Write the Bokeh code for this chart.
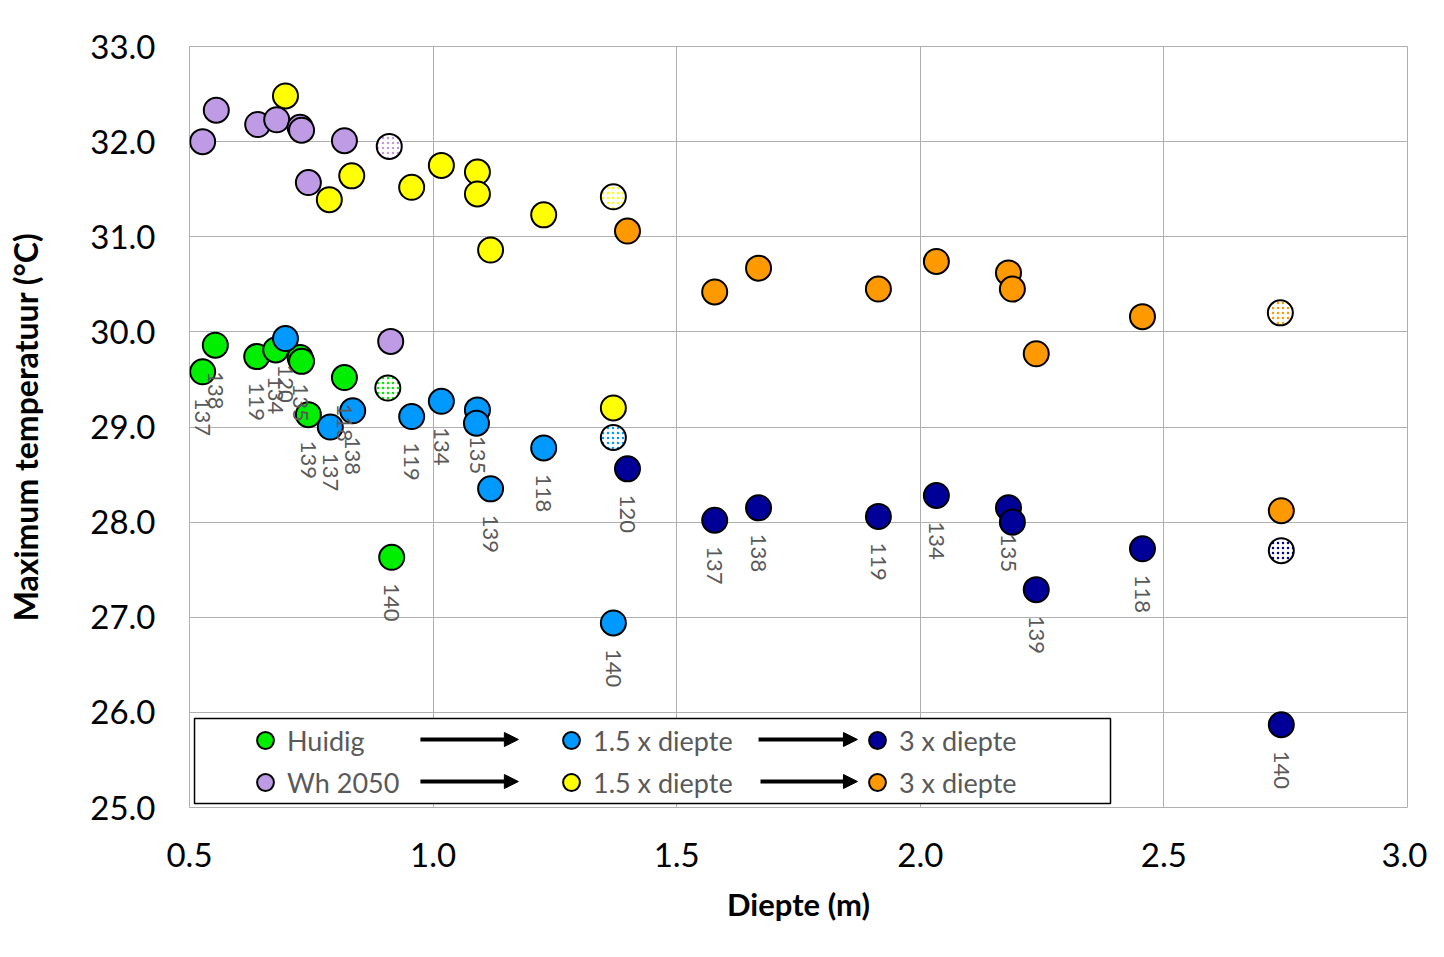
import numpy as np
from bokeh.plotting import figure
from bokeh.models import (ColumnDataSource, Legend, LegendItem, FixedTicker,
                          NumeralTickFormatter, BoxAnnotation, Arrow, NormalHead, Range1d)
from bokeh.embed import file_html
from bokeh.resources import INLINE
from bokeh.core.properties import value

nan = float("nan")

# Station labels (the 7th station carries no visible label)
stations = ["137", "138", "119", "134", "120", "135", "", "139", "118", "140"]

# Huidig (current)
huidig_depth = [0.527, 0.553, 0.638, 0.677, nan, 0.727, 0.730, 0.744, 0.818, 0.915]
huidig_temp = [29.58, 29.86, 29.74, 29.81, nan, 29.73, 29.69, 29.13, 29.52, 27.63]
# Huidig, 1.5 x diepte
huidig15_depth = [0.789, 0.835, 0.956, 1.017, 0.697, 1.091, 1.089, 1.118, 1.227, 1.370]
huidig15_temp = [29.00, 29.17, 29.11, 29.27, 29.93, 29.18, 29.04, 28.35, 28.78, 26.94]
# Huidig, 3 x diepte
huidig3_depth = [1.578, 1.668, 1.914, 2.033, 1.399, 2.181, 2.189, 2.238, 2.456, 2.741]
huidig3_temp = [28.02, 28.15, 28.06, 28.28, 28.56, 28.15, 28.00, 27.29, 27.72, 25.87]

# Wh 2050
wh_depth = [0.527, 0.555, 0.640, 0.679, nan, 0.727, 0.730, 0.744, 0.818, 0.913]
wh_temp = [32.00, 32.33, 32.18, 32.23, nan, 32.15, 32.12, 31.57, 32.01, 29.90]
# Wh 2050, 1.5 x diepte
wh15_depth = [0.787, 0.833, 0.956, 1.017, 0.697, 1.091, 1.091, 1.118, 1.227, 1.370]
wh15_temp = [31.39, 31.64, 31.52, 31.75, 32.48, 31.68, 31.45, 30.86, 31.23, 29.20]
# Wh 2050, 3 x diepte
wh3_depth = [1.578, 1.668, 1.914, 2.033, 1.399, 2.181, 2.189, 2.238, 2.456, 2.741]
wh3_temp = [30.42, 30.67, 30.45, 30.74, 31.06, 30.62, 30.45, 29.77, 30.16, 28.12]

# Hatched (patterned) markers, one per series
hatched_depth = [0.907, 1.370, 2.741, 0.910, 1.370, 2.739]
hatched_temp = [29.41, 28.89, 27.70, 31.95, 31.42, 30.20]
hatched_color = ["#00ee00", "#0099ff", "#000099", "#bf9be6", "#ffff00", "#ff9900"]

x_ticks = [0.5, 1.0, 1.5, 2.0, 2.5, 3.0]
y_ticks = [25, 26, 27, 28, 29, 30, 31, 32, 33]

FONT = "Lato"
GRID = "#b0b0b0"

p = figure(frame_width=1218, frame_height=761,
           x_range=Range1d(0.5, 3.0), y_range=Range1d(25, 33),
           output_backend="svg", toolbar_location=None,
           min_border_left=189, min_border_top=46,
           min_border_bottom=130, min_border_right=20,
           background_fill_color="white", border_fill_color="white")

p.outline_line_color = GRID
p.outline_line_width = 1
for g in (p.xgrid, p.ygrid):
    g.grid_line_color = GRID
    g.grid_line_width = 1

p.xaxis.ticker = FixedTicker(ticks=x_ticks)
p.yaxis.ticker = FixedTicker(ticks=y_ticks)
p.xaxis.formatter = NumeralTickFormatter(format="0.0")
p.yaxis.formatter = NumeralTickFormatter(format="0.0")
for ax in (p.xaxis, p.yaxis):
    ax.axis_line_color = None
    ax.major_tick_line_color = None
    ax.minor_tick_line_color = None
    ax.major_tick_out = 0
    ax.major_tick_in = 0
    ax.major_label_text_font = FONT
    ax.major_label_text_font_size = "33px"
    ax.major_label_text_color = "black"
    ax.axis_label_text_font = FONT
    ax.axis_label_text_font_style = "bold"
    ax.axis_label_text_color = "black"
p.xaxis.axis_label_text_font_size = "31px"
p.yaxis.axis_label_text_font_size = "32px"
p.xaxis.axis_label = "Diepte (m)"
p.yaxis.axis_label = "Maximum temperatuur (°C)"
p.xaxis.major_label_standoff = 35
p.yaxis.major_label_standoff = 34
p.xaxis.axis_label_standoff = 15
p.yaxis.axis_label_standoff = 42


def series(depth, temp, color):
    src = ColumnDataSource(dict(x=np.array(depth, dtype=float),
                                y=np.array(temp, dtype=float),
                                name=stations))
    r = p.scatter("x", "y", source=src, size=25, fill_color=color,
                  line_color="black", line_width=2)
    return r, src


r_wh15, s_wh15 = series(wh15_depth, wh15_temp, "#ffff00")
r_wh3, s_wh3 = series(wh3_depth, wh3_temp, "#ff9900")
r_wh, s_wh = series(wh_depth, wh_temp, "#bf9be6")
r_h, s_h = series(huidig_depth, huidig_temp, "#00ee00")
r_h15, s_h15 = series(huidig15_depth, huidig15_temp, "#0099ff")
r_h3, s_h3 = series(huidig3_depth, huidig3_temp, "#000099")

hsrc = ColumnDataSource(dict(x=hatched_depth, y=hatched_temp, c=hatched_color))
p.scatter("x", "y", source=hsrc, size=25, fill_color="white", line_color="black",
          line_width=2, hatch_pattern="dot", hatch_color="c", hatch_scale=5,
          hatch_weight=3.5)

for s in (s_h, s_h15, s_h3):
    p.text("x", "y", text="name", source=s, angle=-np.pi / 2, y_offset=26,
           text_align="left", text_baseline="middle", text_font=value(FONT),
           text_font_size="22px", text_color="#595959")

# Legend frame
p.add_layout(BoxAnnotation(left=0.5103, right=2.3904, bottom=25.042, top=25.936,
                           fill_color="white", fill_alpha=1.0,
                           line_color="black", line_width=1.5, line_alpha=1.0))

legend = Legend(items=[
    LegendItem(label="Huidig", renderers=[r_h]),
    LegendItem(label="1.5 x diepte", renderers=[r_h15]),
    LegendItem(label="3 x diepte", renderers=[r_h3]),
    LegendItem(label="Wh 2050", renderers=[r_wh]),
    LegendItem(label="1.5 x diepte", renderers=[r_wh15]),
    LegendItem(label="3 x diepte", renderers=[r_wh3]),
], orientation="horizontal", ncols=3, location=(54, 4),
    glyph_width=44, glyph_height=42, label_standoff=0, label_width=262,
    label_height=42, spacing=0, padding=0, margin=0,
    border_line_alpha=0, background_fill_alpha=0,
    label_text_font=FONT, label_text_font_size="27px", label_text_color="#595959")
p.add_layout(legend)

# Arrows inside the legend
for (xs, xe, yy) in [(0.974, 1.175, 25.715), (1.668, 1.871, 25.715),
                     (0.974, 1.175, 25.273), (1.672, 1.871, 25.273)]:
    p.add_layout(Arrow(end=NormalHead(size=14, fill_color="black", line_color="black"),
                       x_start=xs, y_start=yy, x_end=xe, y_end=yy,
                       line_width=4, line_color="black"))

open("out.html", "w").write(file_html(p, INLINE))
